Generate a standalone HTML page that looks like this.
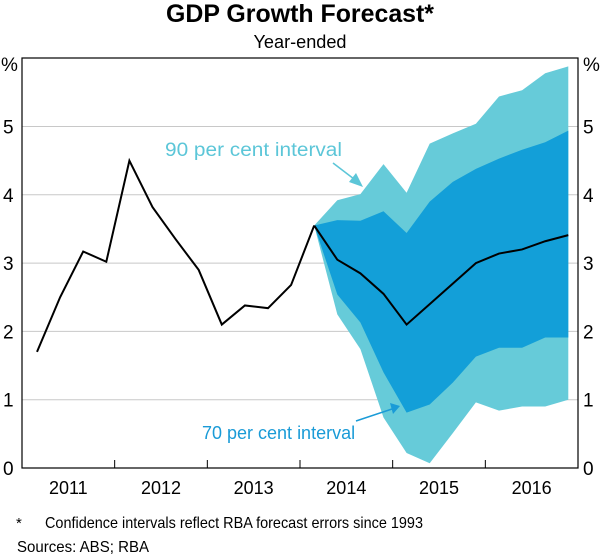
<!DOCTYPE html>
<html><head><meta charset="utf-8"><style>
body{margin:0;background:#fff;font-family:"Liberation Sans",Arial,sans-serif}
svg text{font-family:"Liberation Sans",Arial,sans-serif}
</style></head><body>
<svg width="600" height="555" viewBox="0 0 600 555">
<text x="300" y="22" text-anchor="middle" font-size="25" font-weight="bold" textLength="268" lengthAdjust="spacingAndGlyphs">GDP Growth Forecast*</text>
<text x="300" y="48" text-anchor="middle" font-size="18" textLength="93" lengthAdjust="spacingAndGlyphs">Year-ended</text>
<g id="grid"></g><g id="bands"></g><g id="lines"></g><g id="axes"></g>
<text x="165" y="156" font-size="19" fill="#5cc6d8" textLength="177" lengthAdjust="spacingAndGlyphs">90 per cent interval</text>
<line x1="333" y1="163" x2="354" y2="179" stroke="#5cc6d8" stroke-width="1.5"/>
<polygon points="363,187 349,182 356,173" fill="#5cc6d8"/>
<text x="202" y="439" font-size="18" fill="#1a9bd7">70 per cent interval</text>
<line x1="356" y1="421" x2="392" y2="409" stroke="#1a9bd7" stroke-width="1.5"/>
<polygon points="400,406 390,403 393,414" fill="#1a9bd7"/>
<text x="16" y="528" font-size="15">*</text>
<text x="45" y="528" font-size="16" textLength="378" lengthAdjust="spacingAndGlyphs">Confidence intervals reflect RBA forecast errors since 1993</text>
<text x="17" y="552" font-size="16" textLength="132" lengthAdjust="spacingAndGlyphs">Sources:   ABS; RBA</text>
</svg>
<script>
const histValues=[1.7,2.5,3.17,3.02,4.5,3.82,3.35,2.9,2.1,2.38,2.34,2.68,3.55];
const fcValues=[3.55,3.05,2.85,2.55,2.1,2.4,2.7,3.0,3.14,3.2,3.32,3.41];
const up90=[3.55,3.92,4.01,4.45,4.03,4.75,4.9,5.04,5.44,5.53,5.78,5.88];
const up70=[3.55,3.63,3.62,3.76,3.44,3.9,4.19,4.38,4.53,4.66,4.77,4.94];
const lo70=[3.55,2.54,2.13,1.4,0.81,0.93,1.25,1.63,1.76,1.76,1.91,1.91];
const lo90=[3.55,2.25,1.74,0.74,0.22,0.07,0.51,0.96,0.84,0.9,0.9,1.0];
const yTicks=[0,1,2,3,4,5];
const years=["2011","2012","2013","2014","2015","2016"];
const L=22,R=578,T=58,B=468;
const ys=v=>B-v*68.3;
const xs=i=>37+i*23.1;
const fx=i=>xs(i+12);
const NS="http://www.w3.org/2000/svg";
function mk(p,t,a){const e=document.createElementNS(NS,t);for(const k in a)e.setAttribute(k,a[k]);document.getElementById(p).appendChild(e);return e;}
yTicks.forEach(v=>{
 if(v>0){const g=mk('grid','line',{x1:L,x2:R,y1:ys(v),y2:ys(v),stroke:'#c8c8c8','stroke-width':1});
 
 }
 const a=mk('axes','text',{x:3,y:ys(v)+7,'font-size':19});a.textContent=v;
 
 
 const b=mk('axes','text',{x:583,y:ys(v)+7,'font-size':19});b.textContent=v;
 
 
});
const pl=mk('axes','text',{x:1,y:T+13,'font-size':19});pl.textContent='%';


const pr=mk('axes','text',{x:583,y:T+13,'font-size':19});pr.textContent='%';


function band(up,lo,col,name){
 let pts=up.map((v,i)=>fx(i)+','+ys(v));
 for(let i=lo.length-1;i>=0;i--)pts.push(fx(i)+','+ys(lo[i]));
 const p=mk('bands','polygon',{points:pts.join(' '),fill:col});
 
 
}
band(up90,lo90,'#66cbd9','band-90');
band(up70,lo70,'#139fd8','band-70');
const h=mk('lines','polyline',{points:histValues.map((v,i)=>xs(i)+','+ys(v)).join(' '),fill:'none',stroke:'#000','stroke-width':2});


const f=mk('lines','polyline',{points:fcValues.map((v,i)=>fx(i)+','+ys(v)).join(' '),fill:'none',stroke:'#000','stroke-width':2});


const fr=mk('axes','rect',{x:L,y:T,width:R-L,height:B-T,fill:'none',stroke:'#000','stroke-width':1.2});


const yw=(R-L)/6;
years.forEach((y,k)=>{
 if(k>0){const t=mk('axes','line',{x1:L+k*yw,x2:L+k*yw,y1:B,y2:B-8,stroke:'#000'});
 
 }
 const tx=mk('axes','text',{x:L+(k+0.5)*yw,y:B+26,'font-size':18,'text-anchor':'middle'});tx.textContent=y;
 
 
});
</script>
</body></html>
